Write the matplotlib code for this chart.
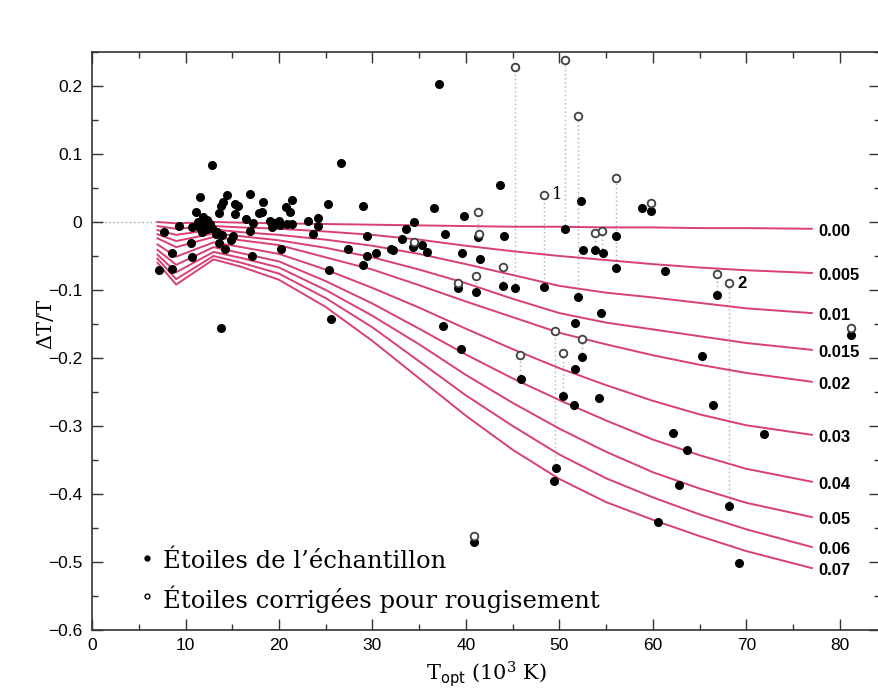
import numpy as np
import matplotlib
matplotlib.use("Agg")
import matplotlib.pyplot as plt
from matplotlib.ticker import MultipleLocator, FixedLocator

# model curves: x grid and one series per reddening value
curve_x = [7, 9, 13, 16, 20, 25, 30, 35, 40, 45, 50, 55, 60, 65, 70, 77]
curves = {
    "0.00":  [0, -0.002, 0, -0.001, -0.002, -0.003, -0.004, -0.005, -0.006, -0.007, -0.007, -0.008, -0.008, -0.009, -0.009, -0.010],
    "0.005": [-0.006, -0.010, -0.006, -0.008, -0.010, -0.014, -0.019, -0.026, -0.035, -0.043, -0.050, -0.056, -0.062, -0.067, -0.071, -0.075],
    "0.01":  [-0.012, -0.019, -0.011, -0.015, -0.019, -0.026, -0.035, -0.047, -0.062, -0.078, -0.094, -0.104, -0.111, -0.119, -0.127, -0.134],
    "0.015": [-0.018, -0.028, -0.017, -0.021, -0.027, -0.038, -0.052, -0.070, -0.090, -0.113, -0.134, -0.148, -0.158, -0.168, -0.178, -0.188],
    "0.02":  [-0.024, -0.037, -0.022, -0.027, -0.034, -0.052, -0.070, -0.093, -0.117, -0.140, -0.163, -0.180, -0.196, -0.210, -0.222, -0.235],
    "0.03":  [-0.033, -0.051, -0.030, -0.037, -0.047, -0.070, -0.097, -0.126, -0.157, -0.187, -0.215, -0.240, -0.263, -0.283, -0.299, -0.313],
    "0.04":  [-0.041, -0.063, -0.037, -0.046, -0.058, -0.087, -0.120, -0.157, -0.195, -0.230, -0.262, -0.292, -0.320, -0.343, -0.363, -0.382],
    "0.05":  [-0.048, -0.074, -0.044, -0.053, -0.067, -0.100, -0.138, -0.180, -0.225, -0.266, -0.304, -0.338, -0.368, -0.392, -0.413, -0.434],
    "0.06":  [-0.054, -0.084, -0.050, -0.060, -0.076, -0.112, -0.155, -0.205, -0.255, -0.300, -0.342, -0.377, -0.405, -0.430, -0.452, -0.478],
    "0.07":  [-0.060, -0.092, -0.055, -0.066, -0.085, -0.125, -0.175, -0.230, -0.285, -0.335, -0.378, -0.412, -0.438, -0.462, -0.484, -0.509],
}

# sample stars (filled)
star_x = [12.8, 26.6, 11.6, 14.4, 16.9, 14.0, 13.8, 15.3, 15.6, 18.3, 20.7, 21.4, 21.2, 25.2, 13.6, 15.3,
          18.2, 17.9, 11.1, 11.9, 12.3, 16.5, 17.2, 19.0, 20.0, 20.9, 21.4, 23.1, 24.2, 24.2, 9.3, 10.7,
          11.6, 12.3, 12.8, 12.1, 16.9, 7.7, 13.4, 13.9, 15.1, 14.9, 10.6, 13.6, 23.6, 14.2, 20.2, 8.6,
          10.7, 17.1, 7.2, 8.6, 25.3, 25.6, 13.8, 11.3, 12.6, 11.8, 19.6, 20.1, 19.3, 13.3,
          29.0, 29.4, 27.4, 29.4, 30.4, 29.0, 34.4, 33.6, 33.2, 32.0, 32.2, 34.3, 35.3, 35.8, 36.6, 37.8,
          39.8, 39.6, 41.3, 41.5, 44.1, 43.6, 39.1, 41.1, 44.0, 45.3, 48.3, 37.5, 39.5, 37.1,
          50.6, 52.0, 56.0, 56.0, 53.8, 54.7, 59.8, 58.8, 52.3, 52.5, 61.3, 54.4, 51.7, 52.4, 51.7, 45.9,
          50.4, 51.6, 54.2, 49.6, 49.4, 60.5, 66.9, 65.3, 66.4, 62.2, 71.9, 63.6, 62.8, 68.1, 69.2, 81.2, 40.9]
star_y = [0.084, 0.087, 0.037, 0.040, 0.041, 0.029, 0.024, 0.026, 0.024, 0.029, 0.022, 0.032, 0.015, 0.026, 0.013, 0.012,
          0.015, 0.013, 0.015, 0.007, 0.003, 0.004, -0.001, 0.001, 0.001, -0.003, -0.003, 0.001, 0.006, -0.006, -0.006, -0.007,
          -0.009, -0.011, -0.009, -0.004, -0.013, -0.015, -0.015, -0.019, -0.020, -0.027, -0.031, -0.031, -0.018, -0.040, -0.040, -0.045,
          -0.052, -0.050, -0.071, -0.069, -0.071, -0.143, -0.156, 0.000, -0.003, -0.015, -0.002, -0.004, -0.008, -0.017,
          0.024, -0.020, -0.040, -0.050, -0.046, -0.063, 0.000, -0.010, -0.025, -0.040, -0.041, -0.037, -0.034, -0.044, 0.021, -0.018,
          0.009, -0.046, -0.022, -0.054, -0.021, 0.055, -0.097, -0.103, -0.094, -0.097, -0.095, -0.153, -0.187, 0.203,
          -0.010, -0.110, -0.068, -0.020, -0.041, -0.046, 0.016, 0.021, 0.031, -0.041, -0.072, -0.134, -0.148, -0.199, -0.216, -0.231,
          -0.256, -0.269, -0.259, -0.362, -0.381, -0.441, -0.108, -0.197, -0.269, -0.311, -0.312, -0.336, -0.387, -0.418, -0.501, -0.166, -0.470]

# stars corrected for reddening (open)
corr_x = [41.3, 41.4, 44.0, 41.1, 39.1, 48.3, 45.3, 50.6, 52.0, 56.0, 53.8, 54.6, 59.8, 49.5, 50.4, 52.4,
          45.8, 66.9, 68.1, 34.4, 81.2, 40.9]
corr_y = [0.014, -0.017, -0.066, -0.080, -0.090, 0.040, 0.228, 0.238, 0.156, 0.064, -0.016, -0.013, 0.028, -0.161, -0.193, -0.172,
          -0.196, -0.077, -0.090, -0.029, -0.156, -0.462]

# dotted links: x, top (corrected) and bottom (original)
link_x = [41.3, 44.0, 41.1, 39.1, 48.3, 45.3, 50.6, 52.0, 56.0, 53.8, 54.6, 49.5, 50.4, 52.4, 45.8, 66.9, 68.1]
link_top = [0.014, -0.066, -0.080, -0.090, 0.040, 0.228, 0.238, 0.156, 0.064, -0.016, -0.013, -0.161, -0.193, -0.172, -0.196, -0.077, -0.090]
link_bot = [-0.022, -0.094, -0.103, -0.097, -0.095, -0.097, -0.010, -0.110, -0.068, -0.041, -0.046, -0.381, -0.256, -0.199, -0.231, -0.108, -0.418]

pink = "#d9406f"
sans = "Liberation Sans"
serif = "DejaVu Serif"
plt.rcParams["mathtext.fontset"] = "dejavuserif"

fig = plt.figure(figsize=(8.79, 6.92), dpi=100)
ax = fig.add_axes([0.1047, 0.0896, 0.8965, 0.8353])

ax.vlines(link_x, link_bot, link_top, colors="#b0b0b0", linestyles=(0, (1, 2)), lw=1.0, zorder=1)
ax.plot([0, 7], [0, 0], color="#a0a0a0", ls=(0, (1, 2)), lw=1.0, zorder=1)

for name, ys in curves.items():
    ax.plot(curve_x, ys, color=pink, lw=1.4, zorder=2)
    ax.text(curve_x[-1] + 0.7, ys[-1] - 0.004, name, fontsize=12, fontweight="bold", family=sans,
            va="center", ha="left")

ax.plot(star_x, star_y, "o", color="black", ms=5.5, mec="black", zorder=4)
ax.plot(corr_x, corr_y, "o", mfc="white", mec="#404040", mew=1.3, ms=5.5, zorder=5)

ax.text(49.2, 0.040, "1", fontsize=12, family=serif, va="center")
ax.text(69.0, -0.091, "2", fontsize=12, fontweight="bold", family=sans, va="center")

# legend
ax.plot([5.9], [-0.494], "o", color="black", ms=3.5)
ax.plot([5.9], [-0.550], "o", mfc="white", mec="black", ms=3.5, mew=1)
ax.text(7.6, -0.500, "Étoiles de l’échantillon", fontsize=17.5, family=serif, va="center")
ax.text(7.6, -0.555, "Étoiles corrigées pour rougisement", fontsize=17.5, family=serif, va="center")

ax.set_xlim(0, 84.3)
ax.set_ylim(-0.6, 0.25)
ax.xaxis.set_major_locator(FixedLocator(range(0, 81, 10)))
ax.xaxis.set_minor_locator(MultipleLocator(5))
ax.yaxis.set_major_locator(FixedLocator([-0.6, -0.5, -0.4, -0.3, -0.2, -0.1, 0, 0.1, 0.2]))
ax.yaxis.set_minor_locator(MultipleLocator(0.05))
ax.set_yticklabels(["−0.6", "−0.5", "−0.4", "−0.3", "−0.2", "−0.1", "0", "0.1", "0.2"])
ax.tick_params(which="both", direction="in", top=True, right=True, labelsize=12.5, width=1.0, color="#333333")
ax.tick_params(which="major", length=8)
ax.tick_params(which="minor", length=4)
ax.tick_params(axis="y", pad=7)
ax.tick_params(axis="x", pad=6)
for lab in ax.get_xticklabels() + ax.get_yticklabels():
    lab.set_family(sans)
for sp in ax.spines.values():
    sp.set_linewidth(1.2)
    sp.set_color("#333333")

ax.set_ylabel("ΔT/T", fontsize=15, family=serif)
ax.yaxis.set_label_coords(-0.047, 0.53)
ax.set_xlabel(r"T$_{\mathsf{opt}}$ (10$^3$ K)", fontsize=15, family=serif, labelpad=4)

fig.savefig("out.png", dpi=100)
